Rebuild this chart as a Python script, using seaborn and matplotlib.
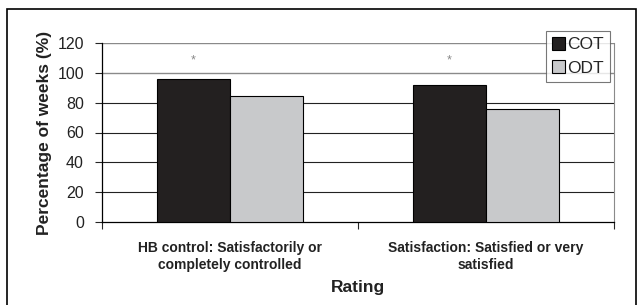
import numpy as np
import pandas as pd
import matplotlib
matplotlib.use("Agg")
import matplotlib.pyplot as plt
import seaborn as sns
from matplotlib.patches import Rectangle

# Veriler
categories = ["HB control: Satisfactorily or\ncompletely controlled",
              "Satisfaction: Satisfied or very\nsatisfied"]
groups = ["COT", "ODT"]
cot_values = [96, 92]
odt_values = [84.5, 76]
star_height = 108

df = pd.DataFrame({
    "Rating": categories * 2,
    "Group": ["COT"] * 2 + ["ODT"] * 2,
    "Value": cot_values + odt_values,
})

sns.set_style("white")
plt.rcParams["font.family"] = ["Liberation Sans", "DejaVu Sans"]

fig = plt.figure(figsize=(6.41, 3.05), dpi=100)
ax = fig.add_axes([102 / 641, 83 / 305, 512 / 641, 179 / 305])

# dis cerceve
fig.patches.append(Rectangle((7 / 641, -0.05), 629 / 641, (305 - 9) / 305 + 0.05,
                             transform=fig.transFigure, fill=False,
                             edgecolor="black", linewidth=1.2, zorder=0))

sns.barplot(data=df, x="Rating", y="Value", hue="Group", hue_order=groups,
            palette={"COT": "#231f20", "ODT": "#c8c9cb"}, width=0.57,
            edgecolor="black", linewidth=0.8, ax=ax, zorder=3)

ax.set_ylim(0, 120)
ax.set_xlim(-0.5, 1.5)
ax.set_yticks(np.arange(0, 121, 20))
ax.tick_params(axis="y", labelsize=11.5, length=5, width=0.8, direction="out", left=True, pad=8,
               labelcolor="#222222")
for y in [20, 40, 60, 80]:
    ax.axhline(y, color="#222222", linewidth=0.8, zorder=1)
for y in [100, 120]:
    ax.axhline(y, color="#8a8a8a", linewidth=1.0, zorder=1)

# x ekseni: etiketler ortada, tikler sinirlarda
ax.set_xticks([-0.5, 0.5, 1.5])
ax.set_xticklabels([])
ax.set_xticks([0, 1], minor=True)
ax.set_xticklabels(categories, minor=True, fontsize=10, fontweight="bold", color="#222222")
ax.tick_params(axis="x", which="major", length=5, width=0.8, bottom=True, direction="out")
ax.tick_params(axis="x", which="minor", length=0, pad=14)

ax.set_xlabel("Rating", fontsize=12.5, fontweight="bold", labelpad=6, color="#222222")
ax.set_ylabel("Percentage of weeks (%)", fontsize=12.5, fontweight="bold", labelpad=4,
              color="#222222")

for s in ["left", "bottom"]:
    ax.spines[s].set_color("black")
    ax.spines[s].set_linewidth(0.9)
ax.spines["right"].set_color("#8a8a8a")
ax.spines["top"].set_visible(False)

# yildizlar
for bar in ax.patches[:2]:
    cx = bar.get_x() + bar.get_width() / 2
    ax.text(cx, star_height, "*", ha="center", va="center", fontsize=9, color="#888888")

leg = ax.legend(loc="upper right", bbox_to_anchor=(610 / 641, 1 - 31 / 305),
                bbox_transform=fig.transFigure, fontsize=12.5, frameon=True,
                fancybox=False, edgecolor="#555555", handlelength=0.75, handleheight=0.75,
                handletextpad=0.15, borderpad=0.35, labelspacing=0.45, borderaxespad=0)
leg.get_frame().set_linewidth(0.8)
leg.set_zorder(5)

fig.savefig("out.png", dpi=100)
